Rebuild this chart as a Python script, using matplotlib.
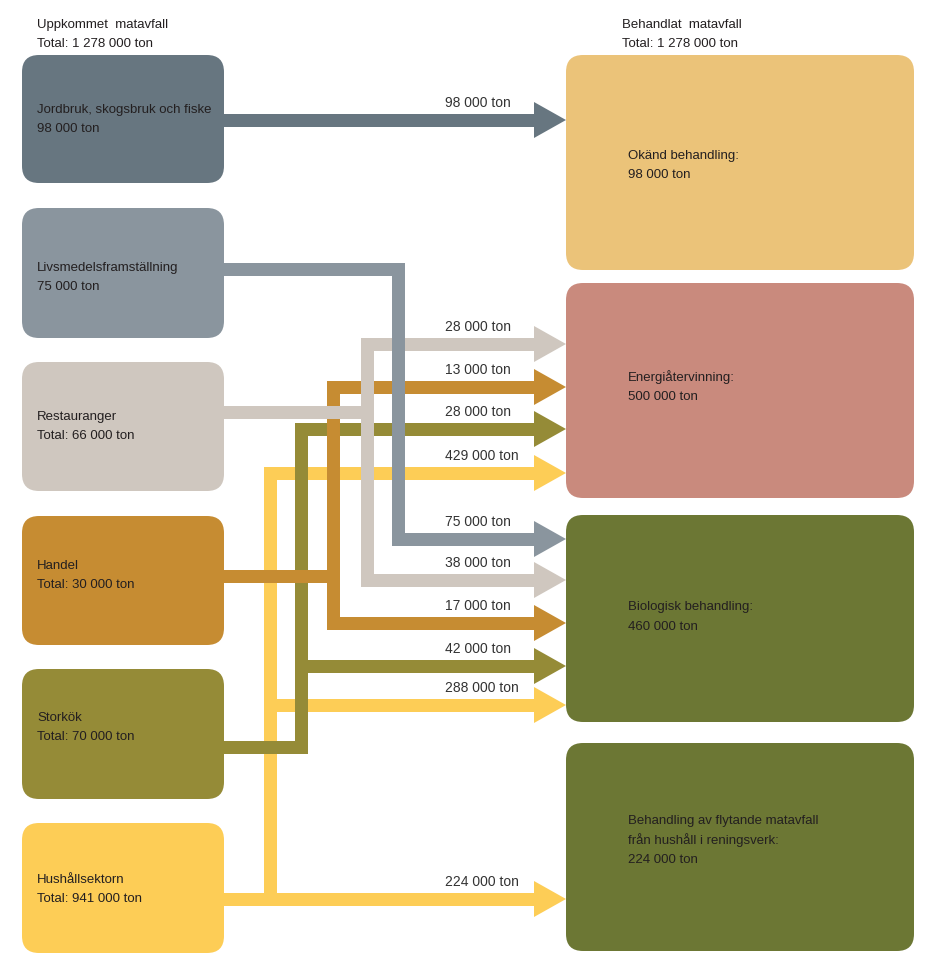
import matplotlib
matplotlib.use("Agg")
import matplotlib.pyplot as plt
from matplotlib.patches import FancyBboxPatch, Polygon
from matplotlib.lines import Line2D

plt.rcParams["font.family"] = ["Liberation Sans", "DejaVu Sans"]

# --- data ---
source_names = ["Jordbruk, skogsbruk och fiske", "Livsmedelsframställning", "Restauranger",
                "Handel", "Storkök", "Hushållsektorn"]
source_values = ["98 000 ton", "75 000 ton", "Total: 66 000 ton",
                 "Total: 30 000 ton", "Total: 70 000 ton", "Total: 941 000 ton"]
target_names = ["Okänd behandling:", "Energiåtervinning:", "Biologisk behandling:",
                "Behandling av flytande matavfall\nfrån hushåll i reningsverk:"]
target_values = ["98 000 ton", "500 000 ton", "460 000 ton", "224 000 ton"]
header_left = ["Uppkommet  matavfall", "Total: 1 278 000 ton"]
header_right = ["Behandlat  matavfall", "Total: 1 278 000 ton"]

# flows: source index, target index, tonnes
flow_source = [0, 1, 2, 2, 3, 3, 4, 4, 5, 5, 5]
flow_target = [0, 2, 1, 2, 1, 2, 1, 2, 1, 2, 3]
flow_tonnes = [98000, 75000, 28000, 38000, 13000, 17000, 28000, 42000, 429000, 288000, 224000]

# --- layout (pixels) ---
W, H = 929, 964
src_colors = ["#677680", "#8a959e", "#cfc7bf", "#c68c32", "#958b37", "#fdcd56"]
tgt_colors = ["#ebc379", "#c98a7d", "#6c7734", "#6c7734"]
src_box_y = [(55, 183), (208, 338), (362, 491), (516, 645), (669, 799), (823, 953)]
src_text_y = [110, 268, 417, 566, 718, 880]
tgt_box_y = [(55, 270), (283, 498), (515, 722), (743, 951)]
tgt_text_y = [156, 377, 607, 821]
stub_y = [120, 269, 412, 576, 747, 899]
trunk_x = [None, 398, 367, 333, 301, 270]
arrow_y = [120, 539, 344, 580, 387, 623, 429, 666, 473, 705, 899]

shaft = 13 * 72 / 100
head_x0, head_x1, head_h = 534, 566, 18
box_left_x0, box_left_w = 22, 202
box_right_x0, box_right_w = 566, 348
stub_x0 = 215
shaft_end = head_x0 + 2
text_col = "#231f20"
label_col = "#333333"

fig = plt.figure(figsize=(W / 100, H / 100), dpi=100)
ax = fig.add_axes([0, 0, 1, 1])
ax.set_xlim(0, W)
ax.set_ylim(H, 0)
ax.axis("off")


def line(pts, color):
    xs, ys = zip(*pts)
    ax.add_line(Line2D(xs, ys, lw=shaft, color=color, solid_capstyle="butt",
                       solid_joinstyle="miter", zorder=2))


def head(y, color):
    ax.add_patch(Polygon([(head_x0, y - head_h), (head_x1, y), (head_x0, y + head_h)],
                         closed=True, color=color, lw=0, zorder=2))


# draw flows source by source (earlier sources end up on top where they cross)
for s in [5, 4, 3, 2, 1, 0]:
    col = src_colors[s]
    idx = [i for i, fs in enumerate(flow_source) if fs == s]
    ys = [arrow_y[i] for i in idx]
    tx = trunk_x[s]
    sy = stub_y[s]
    direct = [y for y in ys if y == sy]
    branch = [y for y in ys if y != sy]
    for y in direct:
        line([(stub_x0, y), (shaft_end, y)], col)
    if tx is not None and branch:
        allys = branch + [sy]
        top, bot = min(allys), max(allys)
        start = (shaft_end, top) if top in branch else (stub_x0, top)
        end = (shaft_end, bot) if bot in branch else (stub_x0, bot)
        line([start, (tx, top), (tx, bot), end], col)
        for y in allys:
            if y in (top, bot):
                continue
            if y in branch:
                line([(tx, y), (shaft_end, y)], col)
            else:
                line([(stub_x0, y), (tx, y)], col)
    for i in idx:
        head(arrow_y[i], col)
        ax.text(445, arrow_y[i] - 17, f"{flow_tonnes[i] // 1000} 000 ton", fontsize=10,
                color=label_col, va="center", ha="left", zorder=4)

# boxes
for (y0, y1), col, name, val, ty in zip(src_box_y, src_colors, source_names, source_values, src_text_y):
    ax.add_patch(FancyBboxPatch((box_left_x0, y0), box_left_w, y1 - y0,
                                boxstyle="round,pad=0,rounding_size=17",
                                fc=col, ec="none", zorder=3))
    ax.text(37, ty, name, fontsize=9.5, color=text_col, va="center", zorder=4)
    ax.text(37, ty + 19, val, fontsize=9.5, color=text_col, va="center", zorder=4)

for (y0, y1), col, name, val, ty in zip(tgt_box_y, tgt_colors, target_names, target_values, tgt_text_y):
    ax.add_patch(FancyBboxPatch((box_right_x0, y0), box_right_w, y1 - y0,
                                boxstyle="round,pad=0,rounding_size=17",
                                fc=col, ec="none", zorder=3))
    lines = name.split("\n") + [val]
    for k, t in enumerate(lines):
        ax.text(628, ty + 19.5 * k, t, fontsize=9.5, color=text_col, va="center", zorder=4)

for k, t in enumerate(header_left):
    ax.text(37, 25 + 19 * k, t, fontsize=9.5, color=text_col, va="center")
for k, t in enumerate(header_right):
    ax.text(622, 25 + 19 * k, t, fontsize=9.5, color=text_col, va="center")

fig.savefig("out.png", dpi=100, facecolor="white")
